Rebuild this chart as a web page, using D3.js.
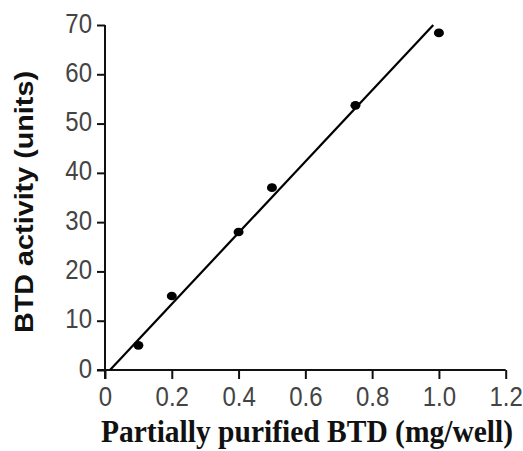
<!DOCTYPE html>
<html>
<head>
<meta charset="utf-8">
<script src="https://cdn.jsdelivr.net/npm/d3@7"></script>
<style>
  html, body { margin: 0; padding: 0; background: #fff; }
  svg { display: block; }
</style>
</head>
<body>
<svg id="chart" width="523" height="451"></svg>
<script>
// ---- data ----
const doses = [0.1, 0.2, 0.4, 0.5, 0.75, 1.0];           // mg/well
const activity = [5.0, 15.0, 28.0, 37.0, 53.7, 68.4];     // units
const xTicks = [0, 0.2, 0.4, 0.6, 0.8, 1.0, 1.2];
const xTickLabels = ["0", "0.2", "0.4", "0.6", "0.8", "1.0", "1.2"];
const yTicks = [0, 10, 20, 30, 40, 50, 60, 70];
const yTickLabels = ["0", "10", "20", "30", "40", "50", "60", "70"];
const fitSlope = [72.3];
const fitIntercept = [-1.08];
const xTitle = "Partially purified BTD (mg/well)";
const yTitle = "BTD activity (units)";

// ---- layout ----
const svg = d3.select("#chart");
const x = d3.scaleLinear().domain([0, 1.2]).range([105, 505.7]);
const y = d3.scaleLinear().domain([0, 70]).range([370, 25]);
const stretch = 1.12;

// fit line endpoints (y from 0 to 70)
const fitPts = [0, 70].map(v => ({ x: (v - fitIntercept[0]) / fitSlope[0], y: v }));

// axes
const xAxis = d3.axisBottom(x)
  .tickValues(xTicks)
  .tickFormat((d, i) => xTickLabels[i])
  .tickSize(9).tickSizeOuter(0);
const yAxis = d3.axisLeft(y)
  .tickValues(yTicks)
  .tickFormat((d, i) => yTickLabels[i])
  .tickSize(8).tickSizeOuter(0).tickPadding(5);

const gx = svg.append("g").attr("transform", "translate(0,370)").call(xAxis);
const gy = svg.append("g").attr("transform", "translate(105,0)").call(yAxis);

[gx, gy].forEach(g => {
  g.select(".domain").attr("stroke", "#111").attr("stroke-width", 2);
  g.selectAll(".tick line").attr("stroke", "#111").attr("stroke-width", 2);
  g.selectAll(".tick text")
    .attr("fill", "#444")
    .style("font-family", "'Liberation Sans', Arial, sans-serif")
    .style("font-size", "24px");
});
gx.selectAll(".tick text")
  .attr("y", 0).attr("dy", null)
  .attr("transform", `translate(0,36) scale(1,${stretch})`);
gy.selectAll(".tick text")
  .attr("x", 0).attr("y", 0).attr("dy", null)
  .attr("transform", `translate(-13,7) scale(1,${stretch})`);

// extend axes through origin like the reference
gx.select(".domain").attr("d", `M${x(0)-8},0H${x(1.2)}`);
gy.select(".domain").attr("d", `M0,${y(0)+9}V${y(70)}`);

// fit line
svg.append("line")
  .attr("x1", x(fitPts[0].x)).attr("y1", y(fitPts[0].y))
  .attr("x2", x(fitPts[1].x)).attr("y2", y(fitPts[1].y))
  .attr("stroke", "#000").attr("stroke-width", 2.2);

// points
svg.append("g").selectAll("ellipse")
  .data(doses.map((d, i) => ({ x: d, y: activity[i] })))
  .join("ellipse")
  .attr("cx", d => x(d.x)).attr("cy", d => y(d.y))
  .attr("rx", 5).attr("ry", 4.3)
  .attr("fill", "#000");

// titles
svg.append("text")
  .attr("transform", "translate(307,442) scale(1,1.1)")
  .attr("text-anchor", "middle")
  .style("font-family", "'Liberation Serif', 'Times New Roman', serif")
  .style("font-weight", "bold")
  .style("font-size", "29.5px")
  .attr("fill", "#111")
  .text(xTitle);

svg.append("text")
  .attr("transform", "translate(33,202) scale(1,1.15) rotate(-90)")
  .attr("text-anchor", "middle")
  .style("font-family", "'Liberation Sans', Arial, sans-serif")
  .style("font-weight", "bold")
  .style("font-size", "25px")
  .attr("fill", "#111")
  .text(yTitle);
</script>
</body>
</html>
